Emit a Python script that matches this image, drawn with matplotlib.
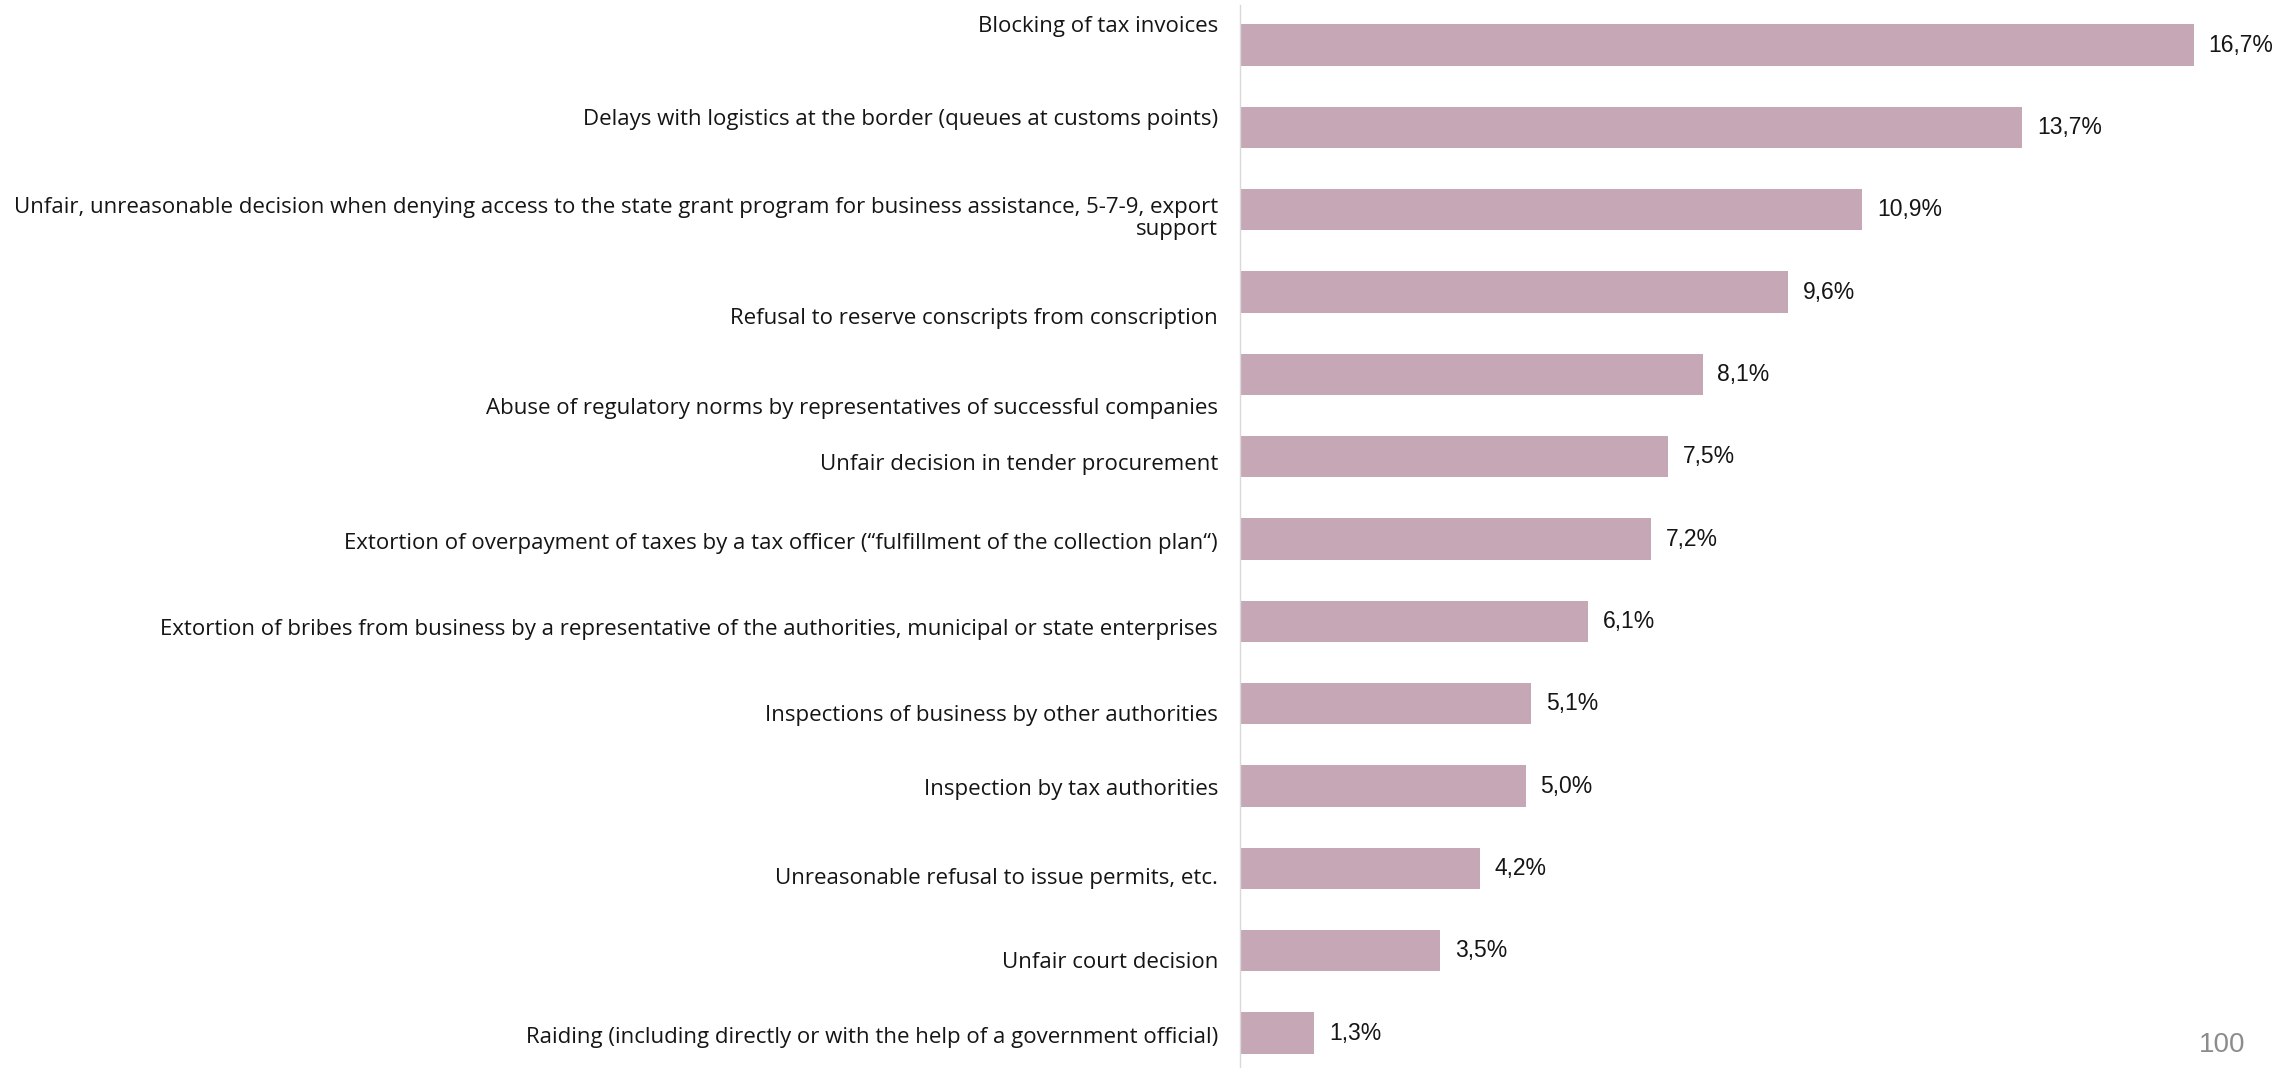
"""Horizontal bar chart: problems faced by business (share of respondents)."""

import matplotlib
matplotlib.use("Agg")
import matplotlib.pyplot as plt

# ── data ───────────────────────────────────────
categories = [
    "Blocking of tax invoices",
    "Delays with logistics at the border (queues at customs points)",
    "Unfair, unreasonable decision when denying access to the state grant program for business assistance, 5-7-9, export\nsupport",
    "Refusal to reserve conscripts from conscription",
    "Abuse of regulatory norms by representatives of successful companies",
    "Unfair decision in tender procurement",
    "Extortion of overpayment of taxes by a tax officer (\u201cfulfillment of the collection plan\u201c)",
    "Extortion of bribes from business by a representative of the authorities, municipal or state enterprises",
    "Inspections of business by other authorities",
    "Inspection by tax authorities",
    "Unreasonable refusal to issue permits, etc.",
    "Unfair court decision",
    "Raiding (including directly or with the help of a government official)",
]
values = [16.7, 13.7, 10.9, 9.6, 8.1, 7.5, 7.2, 6.1, 5.1, 5.0, 4.2, 3.5, 1.3]

# vertical nudge of each category label relative to its bar (as in the source slide)
label_shift = [-0.23, -0.10, 0.11, 0.32, 0.41, 0.09, 0.05, 0.10, 0.14, 0.04, 0.12, 0.14, 0.05]

BAR_COLOR = "#c5a7b5"
TEXT_COLOR = "#151515"
LABEL_FONT = ["Open Sans", "DejaVu Sans"]
VALUE_FONT = ["Liberation Sans", "DejaVu Sans"]

fig = plt.figure(figsize=(22.8, 10.68), dpi=100)
ax = fig.add_axes([1240 / 2280, 0.0, 1 - 1240 / 2280, 1063 / 1068])

ypos = list(range(len(values)))
ax.barh(ypos, values, height=0.5, color=BAR_COLOR, edgecolor="none")

ax.set_xlim(0, 1040 / 57.1)
ax.set_ylim(12.425, -0.486)

for y, v, lab, dy in zip(ypos, values, categories, label_shift):
    ax.text(-0.385, y + dy, lab, ha="right", va="center", multialignment="right",
            fontsize=16, linespacing=1.05, color=TEXT_COLOR, family=LABEL_FONT,
            clip_on=False)
    txt = f"{v:.1f}".replace(".", ",") + "%"
    ax.text(v + 0.26, y, txt, ha="left", va="center",
            fontsize=16.5, color=TEXT_COLOR, family=VALUE_FONT)

for side in ["top", "right", "bottom"]:
    ax.spines[side].set_visible(False)
ax.spines["left"].set_color("#d9d9d9")
ax.spines["left"].set_linewidth(1.0)
ax.set_xticks([])
ax.set_yticks([])

# page number from the slide
fig.text(2245 / 2280, 1 - 1045 / 1068, "100", ha="right", va="center",
         fontsize=20, color="#8c8c8c", family=["Liberation Sans", "DejaVu Sans"])

fig.savefig("out.png", dpi=100)
